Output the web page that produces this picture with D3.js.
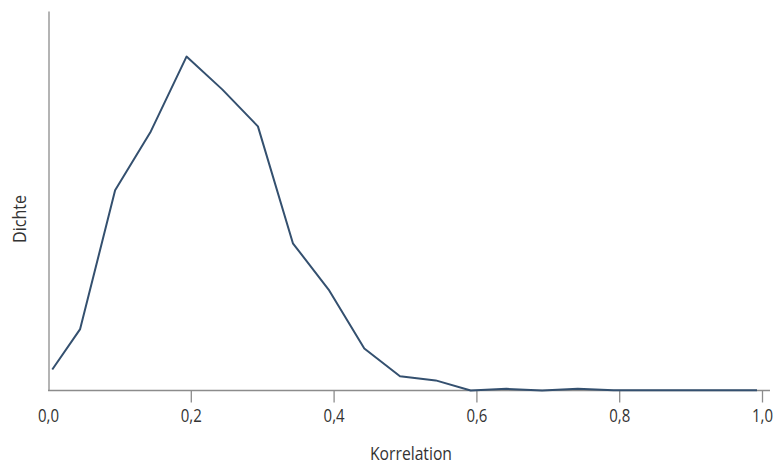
<!DOCTYPE html>
<html>
<head>
<meta charset="utf-8">
<script src="https://cdn.jsdelivr.net/npm/d3@7"></script>
<style>
  body { margin: 0; background: #fff; }
  svg { display: block; }
  text { font-family: "Open Sans", sans-serif; fill: #333; }
</style>
</head>
<body>
<svg id="chart" width="775" height="464"></svg>
<script>
// Correlation values (x) and estimated density (y)
const correlation = [0.006, 0.045, 0.094, 0.144, 0.194, 0.244, 0.294, 0.343, 0.393, 0.443, 0.493,
                     0.543, 0.592, 0.642, 0.692, 0.742, 0.792, 0.842, 0.892, 0.942, 0.993];
const density = [0.25, 0.73, 2.38, 3.08, 3.97, 3.58, 3.14, 1.75, 1.20, 0.50, 0.17,
                 0.12, 0.00, 0.02, 0.00, 0.02, 0.003, 0.003, 0.003, 0.003, 0.003];
const xTicks = [0, 0.2, 0.4, 0.6, 0.8, 1.0];
const xLabel = "Korrelation";
const yLabel = "Dichte";

const svg = d3.select("#chart");
const x = d3.scaleLinear().domain([0, 1]).range([48, 762]);
const y = d3.scaleLinear().domain([0, 4.5]).range([390.5, 12]);

const axisColor = "#8c8c8c";

// x axis
const xAxis = d3.axisBottom(x)
  .tickValues(xTicks)
  .tickSize(12)
  .tickPadding(7)
  .tickFormat(d => d3.format(".1f")(d).replace(".", ","));
const gx = svg.append("g").attr("transform", `translate(0,${y(0)})`).call(xAxis);
gx.select(".domain").remove();
gx.selectAll(".tick line").attr("stroke", axisColor).attr("stroke-width", 1.3);
gx.selectAll(".tick").filter(d => d === 0).select("line").remove();
gx.selectAll(".tick text")
  .style("font-size", "18px")
  .attr("fill", "#333")
  .attr("textLength", 21)
  .attr("lengthAdjust", "spacingAndGlyphs");

svg.append("line")
  .attr("x1", 48).attr("x2", 770)
  .attr("y1", y(0)).attr("y2", y(0))
  .attr("stroke", axisColor).attr("stroke-width", 1.3);

// y axis line (no ticks)
svg.append("line")
  .attr("x1", 49).attr("x2", 49)
  .attr("y1", y(0)).attr("y2", 11.5)
  .attr("stroke", axisColor).attr("stroke-width", 1.3);

// density line
const data = correlation.map((c, i) => ({ c, d: density[i] }));
svg.append("path")
  .datum(data)
  .attr("fill", "none")
  .attr("stroke", "#34506f")
  .attr("stroke-width", 2)
  .attr("stroke-linejoin", "round")
  .attr("d", d3.line().x(p => x(p.c)).y(p => y(p.d)));

// labels
svg.append("text")
  .attr("x", 411).attr("y", 460)
  .attr("text-anchor", "middle")
  .style("font-size", "19px")
  .attr("textLength", 82)
  .attr("lengthAdjust", "spacingAndGlyphs")
  .text(xLabel);

svg.append("text")
  .attr("transform", "translate(25.5,219) rotate(-90)")
  .attr("text-anchor", "middle")
  .style("font-size", "19px")
  .attr("textLength", 48)
  .attr("lengthAdjust", "spacingAndGlyphs")
  .text(yLabel);
</script>
</body>
</html>
